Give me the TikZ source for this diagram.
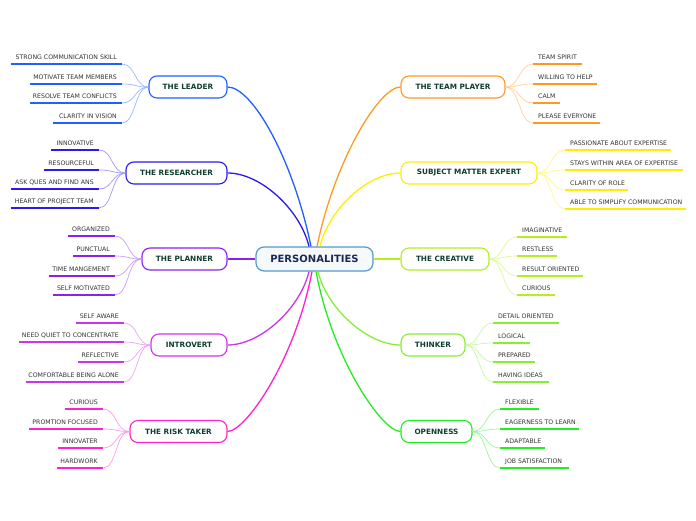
\documentclass[tikz,border=0pt]{standalone}
\usepackage{fontspec}
\setmainfont{DejaVu Sans}
\definecolor{cLeader}{HTML}{2060FF}
\definecolor{cResearch}{HTML}{2B1AEB}
\definecolor{cPlanner}{HTML}{8A22EE}
\definecolor{cIntro}{HTML}{CC33EE}
\definecolor{cRisk}{HTML}{FF22CC}
\definecolor{cTeam}{HTML}{FF9922}
\definecolor{cSME}{HTML}{FFEE00}
\definecolor{cCreative}{HTML}{B4EE22}
\definecolor{cThinker}{HTML}{88EE33}
\definecolor{cOpen}{HTML}{22EE22}
\definecolor{cCentral}{HTML}{5599CC}
\definecolor{cCentralTxt}{HTML}{1A2A55}
\definecolor{cBranchTxt}{HTML}{0E3F30}
\definecolor{cSubTxt}{HTML}{333333}
\tikzset{
  central/.style={draw=cCentral, line width=1.2pt, fill=cCentral!6, rounded corners=8pt,
    minimum height=24pt, inner sep=0pt, text=cCentralTxt,
    font=\fontsize{10}{12}\selectfont\bfseries},
  branch/.style={draw=#1, line width=1.1pt, fill=white, rounded corners=8pt,
    minimum height=22pt, inner sep=0pt, text=cBranchTxt,
    font=\fontsize{7.3}{9}\selectfont\bfseries},
  subtxt/.style={inner sep=0pt, text=cSubTxt, font=\fontsize{6.2}{7}\selectfont},
  subul/.style={line width=1.8pt},
  sublink/.style={line width=0.7pt},
  mainlink/.style={line width=1.3pt}
}
\newcommand\mysubL[7]{%
  \coordinate (#1s) at (#4,#6);
  \coordinate (#1e) at (#5,#6);
  \node[subtxt, anchor=base east] (#1) at ({#5-5},{#6-5}) {#7};
  \draw[subul, #3] (#1s) -- (#1e);
  \draw[sublink, #3!45] (#2.west) .. controls +(-14,0) and +(14,0) .. (#1e);
}
\newcommand\mysubR[7]{%
  \coordinate (#1s) at (#4,#6);
  \coordinate (#1e) at (#5,#6);
  \node[subtxt, anchor=base west] (#1) at ({#4+5},{#6-5}) {#7};
  \draw[subul, #3] (#1s) -- (#1e);
  \draw[sublink, #3!45] (#2.east) .. controls +(14,0) and +(-14,0) .. (#1s);
}
\begin{document}
\begin{tikzpicture}[x=1pt, y=-1pt]
\useasboundingbox (0,0) rectangle (696,520);

% central
\node[central, minimum width=117pt] (P) at (314.5,259) {PERSONALITIES};

% branches left
\node[branch=cLeader, minimum width=78pt] (leader) at (188,87) {THE LEADER};
\node[branch=cResearch, minimum width=101pt] (research) at (176.5,173) {THE RESEARCHER};
\node[branch=cPlanner, minimum width=85pt] (planner) at (184.5,259) {THE PLANNER};
\node[branch=cIntro, minimum width=76pt] (intro) at (189,345) {INTROVERT};
\node[branch=cRisk, minimum width=97pt] (risk) at (178.5,431.5) {THE RISK TAKER};
% branches right
\node[branch=cTeam, minimum width=104pt] (team) at (453,87) {THE TEAM PLAYER};
\node[branch=cSME, minimum width=136pt] (sme) at (469,173) {SUBJECT MATTER EXPERT};
\node[branch=cCreative, minimum width=88pt] (creative) at (445,259) {THE CREATIVE};
\node[branch=cThinker, minimum width=64pt] (thinker) at (433,345) {THINKER};
\node[branch=cOpen, minimum width=71pt] (open) at (436.5,431.5) {OPENNESS};

% main connectors
\draw[mainlink, cLeader] ([xshift=-3.5pt]P.north) .. controls +(-18,-87) and +(25,0) .. (leader.east);
\draw[mainlink, cResearch] ([xshift=-5.5pt]P.north) .. controls +(-9,-37) and +(33,0) .. (research.east);
\draw[mainlink, cPlanner] (P.west) -- (planner.east);
\draw[mainlink, cIntro] ([xshift=-5.5pt]P.south) .. controls +(-9,37) and +(33,0) .. (intro.east);
\draw[mainlink, cRisk] ([xshift=-2.5pt]P.south) .. controls +(-17,89) and +(18,0) .. (risk.east);
\draw[mainlink, cTeam] ([xshift=2.5pt]P.north) .. controls +(18,-87) and +(-21,0) .. (team.west);
\draw[mainlink, cSME] ([xshift=5.5pt]P.north) .. controls +(9,-37) and +(-33,0) .. (sme.west);
\draw[mainlink, cCreative] (P.east) -- (creative.west);
\draw[mainlink, cThinker] ([xshift=3.5pt]P.south) .. controls +(9,37) and +(-33,0) .. (thinker.west);
\draw[mainlink, cOpen] ([xshift=1.5pt]P.south) .. controls +(17,89) and +(-18,0) .. (open.west);

% leader subs
\mysubL{l1}{leader}{cLeader}{11}{122}{64}{STRONG COMMUNICATION SKILL}
\mysubL{l2}{leader}{cLeader}{30}{122}{84}{MOTIVATE TEAM MEMBERS}
\mysubL{l3}{leader}{cLeader}{30}{122}{103}{RESOLVE TEAM CONFLICTS}
\mysubL{l4}{leader}{cLeader}{53}{122}{123}{CLARITY IN VISION}
% researcher subs
\mysubL{r1}{research}{cResearch}{51}{99}{150}{INNOVATIVE}
\mysubL{r2}{research}{cResearch}{44}{99}{170}{RESOURCEFUL}
\mysubL{r3}{research}{cResearch}{11}{99}{189}{ASK QUES AND FIND ANS}
\mysubL{r4}{research}{cResearch}{11}{99}{208}{HEART OF PROJECT TEAM}
% planner subs
\mysubL{p1}{planner}{cPlanner}{68}{115}{236}{ORGANIZED}
\mysubL{p2}{planner}{cPlanner}{73}{115}{256}{PUNCTUAL}
\mysubL{p3}{planner}{cPlanner}{49}{115}{276}{TIME MANGEMENT}
\mysubL{p4}{planner}{cPlanner}{53}{115}{295}{SELF MOTIVATED}
% introvert subs
\mysubL{i1}{intro}{cIntro}{76}{124}{323}{SELF AWARE}
\mysubL{i2}{intro}{cIntro}{19}{124}{342}{NEED QUIET TO CONCENTRATE}
\mysubL{i3}{intro}{cIntro}{78}{124}{362}{REFLECTIVE}
\mysubL{i4}{intro}{cIntro}{26}{124}{382}{COMFORTABLE BEING ALONE}
% risk subs
\mysubL{k1}{risk}{cRisk}{65}{103}{409}{CURIOUS}
\mysubL{k2}{risk}{cRisk}{29}{103}{429}{PROMTION FOCUSED}
\mysubL{k3}{risk}{cRisk}{58}{103}{448}{INNOVATER}
\mysubL{k4}{risk}{cRisk}{57}{103}{468}{HARDWORK}
% team player subs
\mysubR{t1}{team}{cTeam}{533}{582}{64}{TEAM SPIRIT}
\mysubR{t2}{team}{cTeam}{533}{597}{84}{WILLING TO HELP}
\mysubR{t3}{team}{cTeam}{533}{560}{103}{CALM}
\mysubR{t4}{team}{cTeam}{533}{600}{123}{PLEASE EVERYONE}
% sme subs
\mysubR{m1}{sme}{cSME}{565}{671}{150}{PASSIONATE ABOUT EXPERTISE}
\mysubR{m2}{sme}{cSME}{565}{683}{170}{STAYS WITHIN AREA OF EXPERTISE}
\mysubR{m3}{sme}{cSME}{565}{628}{190}{CLARITY OF ROLE}
\mysubR{m4}{sme}{cSME}{565}{686}{209}{ABLE TO SIMPLIFY COMMUNICATION}
% creative subs
\mysubR{c1}{creative}{cCreative}{517}{567}{237}{IMAGINATIVE}
\mysubR{c2}{creative}{cCreative}{517}{557}{256}{RESTLESS}
\mysubR{c3}{creative}{cCreative}{517}{583}{276}{RESULT ORIENTED}
\mysubR{c4}{creative}{cCreative}{517}{555}{295}{CURIOUS}
% thinker subs
\mysubR{h1}{thinker}{cThinker}{493}{559}{323}{DETAIL ORIENTED}
\mysubR{h2}{thinker}{cThinker}{493}{530}{343}{LOGICAL}
\mysubR{h3}{thinker}{cThinker}{493}{535}{362}{PREPARED}
\mysubR{h4}{thinker}{cThinker}{493}{549}{382}{HAVING IDEAS}
% openness subs
\mysubR{o1}{open}{cOpen}{500}{539}{409}{FLEXIBLE}
\mysubR{o2}{open}{cOpen}{500}{579}{429}{EAGERNESS TO LEARN}
\mysubR{o3}{open}{cOpen}{500}{545}{448}{ADAPTABLE}
\mysubR{o4}{open}{cOpen}{500}{569}{468}{JOB SATISFACTION}
\end{tikzpicture}
\end{document}
